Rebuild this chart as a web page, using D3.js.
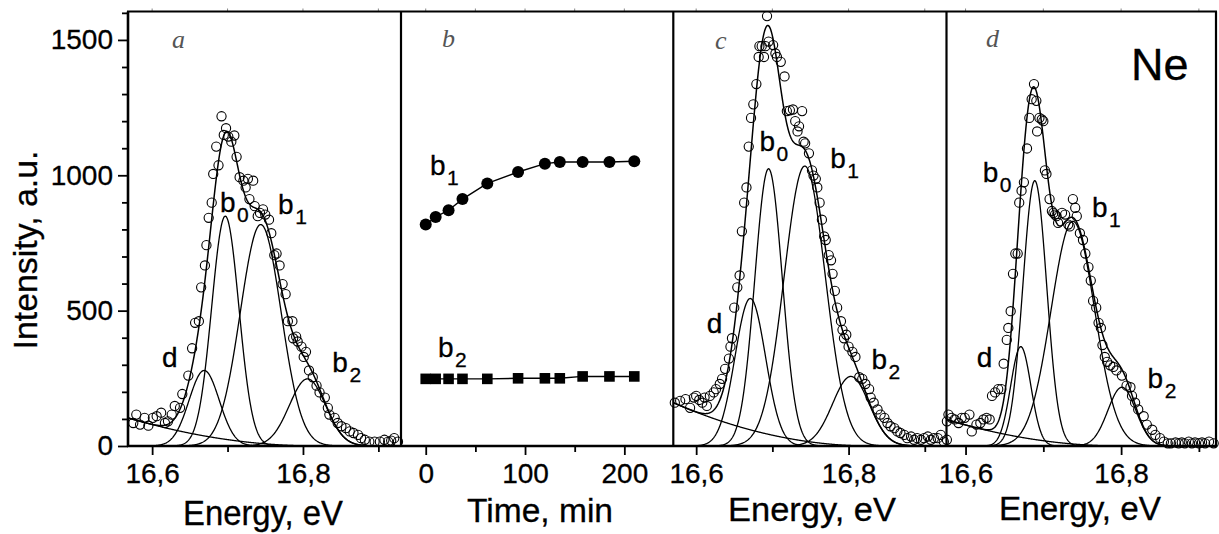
<!DOCTYPE html>
<html>
<head>
<meta charset="utf-8">
<script src="https://cdn.jsdelivr.net/npm/d3@7"></script>
<style>
  body { margin: 0; background: #fff; }
  svg text { font-family: Arial, "Liberation Sans", Helvetica, sans-serif; stroke: #000; stroke-width: 0.3px; }
  svg text.letter { font-family: "Liberation Serif", "Times New Roman", serif; stroke: none; }
</style>
</head>
<body>
<svg id="chart" width="1219" height="534"></svg>
<script>
// ---- values ----

// panel a: measured spectrum (open circles)
const energyA = [16.575,16.579,16.584,16.590,16.595,16.601,16.606,16.612,16.617,16.621,
  16.626,16.630,16.637,16.640,16.648,16.653,16.657,16.662,16.665,16.670,
  16.672,16.675,16.679,16.681,16.685,16.688,16.692,16.695,16.698,16.701,
  16.705,16.709,16.712,16.716,16.721,16.724,16.727,16.729,16.734,16.736,
  16.740,16.743,16.747,16.750,16.755,16.758,16.762,16.765,16.769,16.773,
  16.777,16.780,16.786,16.787,16.791,16.793,16.798,16.801,16.804,16.808,
  16.813,16.818,16.822,16.829,16.833,16.835,16.842,16.846,16.851,16.857,
  16.862,16.867,16.873,16.877,16.882,16.888,16.895,16.902,16.908,16.913,
  16.917,16.921,16.926];
const intensityA = [85,116,79,104,75,104,110,123,85,91,
  116,148,141,192,260,361,455,461,586,667,
  742,843,899,1005,1106,1037,1218,1149,1174,1143,
  1124,1147,1068,993,980,955,987,912,980,886,
  849,861,874,855,836,786,705,711,667,598,
  561,461,461,398,404,386,367,329,348,279,
  254,223,198,179,141,116,104,85,73,66,
  54,48,41,29,23,16,16,16,23,16,
  20,29,16];

// panel c: measured spectrum
const energyC = [16.572,16.579,16.586,16.592,16.597,16.600,16.604,16.608,16.611,16.614,
  16.618,16.623,16.626,16.631,16.634,16.638,16.643,16.645,16.647,16.650,
  16.654,16.657,16.660,16.663,16.666,16.669,16.672,16.675,16.679,16.682,
  16.683,16.686,16.689,16.691,16.693,16.695,16.701,16.704,16.706,16.711,
  16.716,16.719,16.723,16.727,16.730,16.733,16.735,16.739,16.741,16.743,
  16.748,16.752,16.754,16.757,16.759,16.762,16.765,16.768,16.770,16.774,
  16.777,16.779,16.782,16.785,16.790,16.792,16.794,16.797,16.800,16.805,
  16.809,16.814,16.818,16.822,16.827,16.829,16.833,16.838,16.842,16.847,
  16.851,16.855,16.860,16.864,16.868,16.873,16.877,16.882,16.886,16.890,
  16.895,16.899,16.904,16.908,16.912,16.917,16.921,16.925,16.929];
const intensityC = [160,167,173,141,179,185,170,160,179,148,
  185,198,210,229,248,285,323,367,398,511,
  586,630,793,899,955,1106,1212,1262,1337,1437,
  1477,1477,1437,1477,1588,1494,1481,1450,1437,1419,
  1365,1237,1240,1243,1200,1162,1181,1237,1124,1118,
  1081,1018,999,987,955,899,836,774,761,705,
  686,636,573,511,461,429,398,411,367,348,
  329,254,248,229,210,179,160,135,116,104,
  85,73,66,54,48,41,29,35,23,29,
  23,29,35,23,29,29,41,16,23];

// panel d: measured spectrum
const energyD = [16.576,16.578,16.582,16.586,16.591,16.595,16.599,16.605,16.608,16.614,
  16.619,16.623,16.627,16.631,16.634,16.638,16.642,16.646,16.649,16.653,
  16.655,16.658,16.661,16.664,16.667,16.669,16.672,16.675,16.679,16.682,
  16.685,16.688,16.691,16.692,16.695,16.698,16.700,16.702,16.704,16.708,
  16.711,16.713,16.715,16.717,16.719,16.724,16.728,16.732,16.734,16.738,
  16.741,16.743,16.747,16.751,16.754,16.758,16.761,16.764,16.768,16.771,
  16.774,16.776,16.779,16.782,16.786,16.790,16.794,16.801,16.807,16.812,
  16.814,16.818,16.822,16.829,16.833,16.840,16.844,16.850,16.855,16.860,
  16.864,16.870,16.874,16.878,16.882,16.887,16.891,16.895,16.900,16.904,
  16.908,16.913,16.919];
const intensityD = [91,116,104,98,85,104,104,116,54,79,
  85,98,104,98,185,198,210,210,304,392,
  436,498,636,711,711,899,943,974,1099,1212,
  1281,1337,1275,1162,1212,1206,1200,1018,1005,912,
  868,861,855,849,824,861,855,818,811,912,
  880,849,786,761,711,661,611,536,511,455,
  436,373,329,311,298,292,279,260,223,217,
  185,160,135,110,79,60,41,29,16,10,
  10,13,10,13,10,16,10,13,10,13,
  10,16,10];

// fitted components, same order in every spectrum
const peakNames = ["d", "b0", "b1", "b2"];
const centersA = [16.669, 16.697, 16.744, 16.806];
const heightsA = [279, 849, 818, 248];
const widthsA = [0.020, 0.018, 0.027, 0.024];
const centersC = [16.671, 16.695, 16.7425, 16.803];
const heightsC = [545, 1024, 1034, 257];
const widthsC = [0.020, 0.018, 0.027, 0.024];
const centersD = [16.671, 16.689, 16.738, 16.801];
const heightsD = [367, 980, 830, 217];
const widthsD = [0.013, 0.0153, 0.028, 0.018];
// background: intensity at the left edge, energy where it falls to zero
const backgroundA = [104, 16.82];
const backgroundC = [160, 16.83];
const backgroundD = [98, 16.80];

// where the peak names sit (energy, intensity)
const labelEnergyA = [16.613, 16.690, 16.767, 16.839];
const labelIntensityA = [293, 865, 858, 273];
const labelEnergyC = [16.614, 16.683, 16.776, 16.830];
const labelIntensityC = [417, 1090, 1027, 286];
const labelEnergyD = [16.6145, 16.622, 16.7625, 16.834];
const labelIntensityD = [293, 977, 846, 214];

// panel b: peak heights against time
const timeMin = [0, 10, 23, 37, 62, 93, 120, 135, 158, 185, 210];
const b1Height = [818, 846, 871, 912, 970, 1012, 1043, 1049, 1049, 1049, 1052];
const b2Height = [248, 248, 248, 248, 248, 250, 250, 250, 257, 257, 257];
const labelTimeB = [4.3, 12.4];
const labelIntensityB = [1002, 330];

// ticks
const energyTicks = [16.6, 16.8];
const energyMinor = [16.7, 16.9];
const timeTicks = [0, 100, 200];
const timeMinor = [50, 150];
const intensityTicks = [0, 500, 1000, 1500];
const intensityMinor = d3.range(100, 1601, 100).filter(v => v % 500 !== 0);

// ---- drawing ----
const svg = d3.select("#chart");
const plotTop = 11.5, plotBottom = 446;

const y = d3.scaleLinear().domain([0, 1605]).range([plotBottom, plotTop]);
const commaFmt = d => d.toFixed(1).replace(".", ",");

const curvesLayer = svg.append("g");
const pointsLayer = svg.append("g");
const frameLayer = svg.append("g");
const textLayer = svg.append("g");

// peak name with subscript digit
function peakLabel(px, py, name) {
    const t = textLayer.append("text")
        .attr("x", px).attr("y", py)
        .attr("font-size", 28).attr("fill", "#000");
    t.append("tspan").text(name[0]);
    if (name.length > 1) {
        t.append("tspan").attr("font-size", 21).attr("dx", 1.5).attr("dy", 10).text(name.slice(1));
    }
}

// bottom axis with major labels and minor ticks, plus tiny ticks on top edge
function bottomAxis(x, major, minor, fmt) {
    frameLayer.append("g")
        .attr("transform", `translate(0,${plotBottom})`)
        .call(d3.axisBottom(x).tickValues(major).tickSize(9).tickPadding(8).tickFormat(fmt))
        .call(g => g.select(".domain").remove())
        .call(g => g.selectAll("line").attr("stroke-width", 1.8))
        .call(g => g.selectAll("text").attr("font-size", 28).attr("fill", "#000"));
    frameLayer.append("g")
        .attr("transform", `translate(0,${plotBottom})`)
        .call(d3.axisBottom(x).tickValues(minor).tickSize(6).tickFormat(""))
        .call(g => g.select(".domain").remove())
        .call(g => g.selectAll("line").attr("stroke-width", 1.8));
    frameLayer.append("g")
        .selectAll("line")
        .data(major.concat(minor))
        .join("line")
        .attr("x1", d => x(d)).attr("x2", d => x(d))
        .attr("y1", plotTop).attr("y2", plotTop - 3)
        .attr("stroke", "#888").attr("stroke-width", 1);
}

const spectra = [
    { id: "a", range: [128, 401], domain: [16.568, 16.930], E: energyA, I: intensityA,
      c: centersA, h: heightsA, w: widthsA, bg: backgroundA, lx: labelEnergyA, ly: labelIntensityA,
      title: [263, 525, 160, 35] },
    { id: "c", range: [673.3, 946.5], domain: [16.570, 16.9285], E: energyC, I: intensityC,
      c: centersC, h: heightsC, w: widthsC, bg: backgroundC, lx: labelEnergyC, ly: labelIntensityC,
      title: [812, 521, 168, 34] },
    { id: "d", range: [946.5, 1216], domain: [16.5755, 16.922], E: energyD, I: intensityD,
      c: centersD, h: heightsD, w: widthsD, bg: backgroundD, lx: labelEnergyD, ly: labelIntensityD,
      title: [1080, 520, 162, 33] }
];

spectra.forEach(p => {
    const x = d3.scaleLinear().domain(p.domain).range(p.range);

    svg.append("clipPath").attr("id", "clip-" + p.id)
        .append("rect")
        .attr("x", p.range[0]).attr("y", plotTop)
        .attr("width", p.range[1] - p.range[0]).attr("height", plotBottom - plotTop);

    const gauss = (k, e) => p.h[k] * Math.exp(-0.5 * Math.pow((e - p.c[k]) / p.w[k], 2));
    const bgAt = e => e >= p.bg[1] ? 0 : p.bg[0] * Math.pow((p.bg[1] - e) / (p.bg[1] - p.domain[0]), 2);
    const grid = d3.range(0, 601).map(i => p.domain[0] + (p.domain[1] - p.domain[0]) * i / 600);
    const line = d3.line().x(d => x(d[0])).y(d => y(d[1]));

    const g = curvesLayer.append("g").attr("clip-path", `url(#clip-${p.id})`)
        .attr("fill", "none").attr("stroke", "#000").attr("stroke-width", 1.3);

    // background
    g.append("path").attr("d", line(grid.map(e => [e, bgAt(e)])));
    // components
    peakNames.forEach((n, k) => {
        g.append("path").attr("d", line(grid.map(e => [e, gauss(k, e)])));
    });
    // envelope
    g.append("path").attr("stroke-width", 1.5)
        .attr("d", line(grid.map(e => [e, bgAt(e) + d3.sum(peakNames, (n, k) => gauss(k, e))])));

    // measured points
    pointsLayer.append("g")
        .selectAll("circle")
        .data(d3.zip(p.E, p.I))
        .join("circle")
        .attr("cx", d => x(d[0]))
        .attr("cy", d => y(d[1]))
        .attr("r", 4.6)
        .attr("fill", "none")
        .attr("stroke", "#000")
        .attr("stroke-width", 1.1);

    bottomAxis(x, energyTicks, energyMinor, commaFmt);

    peakNames.forEach((n, k) => peakLabel(x(p.lx[k]), y(p.ly[k]), n));

    textLayer.append("text")
        .attr("x", p.title[0]).attr("y", p.title[1])
        .attr("text-anchor", "middle").attr("font-size", p.title[3])
        .attr("textLength", p.title[2]).attr("lengthAdjust", "spacingAndGlyphs")
        .text("Energy, eV");
});

// panel b: time dependence
const xt = d3.scaleLinear().domain([-24.9, 249.3]).range([401, 673.3]);
const tLine = d3.line().x(d => xt(d[0])).y(d => y(d[1]));
const b1Pts = d3.zip(timeMin, b1Height);
const b2Pts = d3.zip(timeMin, b2Height);

curvesLayer.append("path").attr("d", tLine(b1Pts))
    .attr("fill", "none").attr("stroke", "#000").attr("stroke-width", 1.4);
curvesLayer.append("path").attr("d", tLine(b2Pts))
    .attr("fill", "none").attr("stroke", "#000").attr("stroke-width", 1.4);

pointsLayer.append("g").selectAll("circle")
    .data(b1Pts).join("circle")
    .attr("cx", d => xt(d[0])).attr("cy", d => y(d[1]))
    .attr("r", 6).attr("fill", "#000");

pointsLayer.append("g").selectAll("rect")
    .data(b2Pts).join("rect")
    .attr("x", d => xt(d[0]) - 5.3).attr("y", d => y(d[1]) - 5.3)
    .attr("width", 10.6).attr("height", 10.6).attr("fill", "#000");

bottomAxis(xt, timeTicks, timeMinor, d3.format("d"));

peakLabel(xt(labelTimeB[0]), y(labelIntensityB[0]), "b1");
peakLabel(xt(labelTimeB[1]), y(labelIntensityB[1]), "b2");

textLayer.append("text")
    .attr("x", 540).attr("y", 522)
    .attr("text-anchor", "middle").attr("font-size", 34)
    .attr("textLength", 146).attr("lengthAdjust", "spacingAndGlyphs")
    .text("Time, min");

// left intensity axis
frameLayer.append("g")
    .attr("transform", "translate(128,0)")
    .call(d3.axisLeft(y).tickValues(intensityTicks).tickSize(10).tickPadding(5).tickFormat(d3.format("d")))
    .call(g => g.select(".domain").remove())
    .call(g => g.selectAll("line").attr("stroke-width", 1.8))
    .call(g => g.selectAll("text").attr("font-size", 28).attr("fill", "#000"));
frameLayer.append("g")
    .attr("transform", "translate(128,0)")
    .call(d3.axisLeft(y).tickValues(intensityMinor).tickSize(6).tickFormat(""))
    .call(g => g.select(".domain").remove())
    .call(g => g.selectAll("line").attr("stroke-width", 1.8));

textLayer.append("text")
    .attr("transform", "translate(37,250) rotate(-90)")
    .attr("text-anchor", "middle").attr("font-size", 34)
    .attr("textLength", 199).attr("lengthAdjust", "spacingAndGlyphs")
    .text("Intensity, a.u.");

// panel frames
const dividers = [128, 401, 673.3, 946.5, 1216];
frameLayer.append("line")
    .attr("x1", 127).attr("x2", 1217).attr("y1", plotTop).attr("y2", plotTop)
    .attr("stroke", "#000").attr("stroke-width", 2.2);
frameLayer.append("line")
    .attr("x1", 127).attr("x2", 1217).attr("y1", plotBottom).attr("y2", plotBottom)
    .attr("stroke", "#000").attr("stroke-width", 2.4);
frameLayer.selectAll(".divider")
    .data(dividers).join("line")
    .attr("class", "divider")
    .attr("x1", d => d).attr("x2", d => d)
    .attr("y1", plotTop).attr("y2", plotBottom)
    .attr("stroke", "#000")
    .attr("stroke-width", (d, i) => i === 0 ? 2.6 : 2.2);

// panel letters
const panelLetters = [["a", 172, 48], ["b", 442, 47], ["c", 715, 49], ["d", 986, 47]];
textLayer.selectAll(".letter")
    .data(panelLetters).join("text")
    .attr("class", "letter")
    .attr("x", d => d[1]).attr("y", d => d[2])
    .attr("font-style", "italic").attr("font-size", 26).attr("fill", "#555")
    .text(d => d[0]);

textLayer.append("text")
    .attr("x", 1131).attr("y", 80)
    .attr("font-size", 45)
    .text("Ne");
</script>
</body>
</html>
